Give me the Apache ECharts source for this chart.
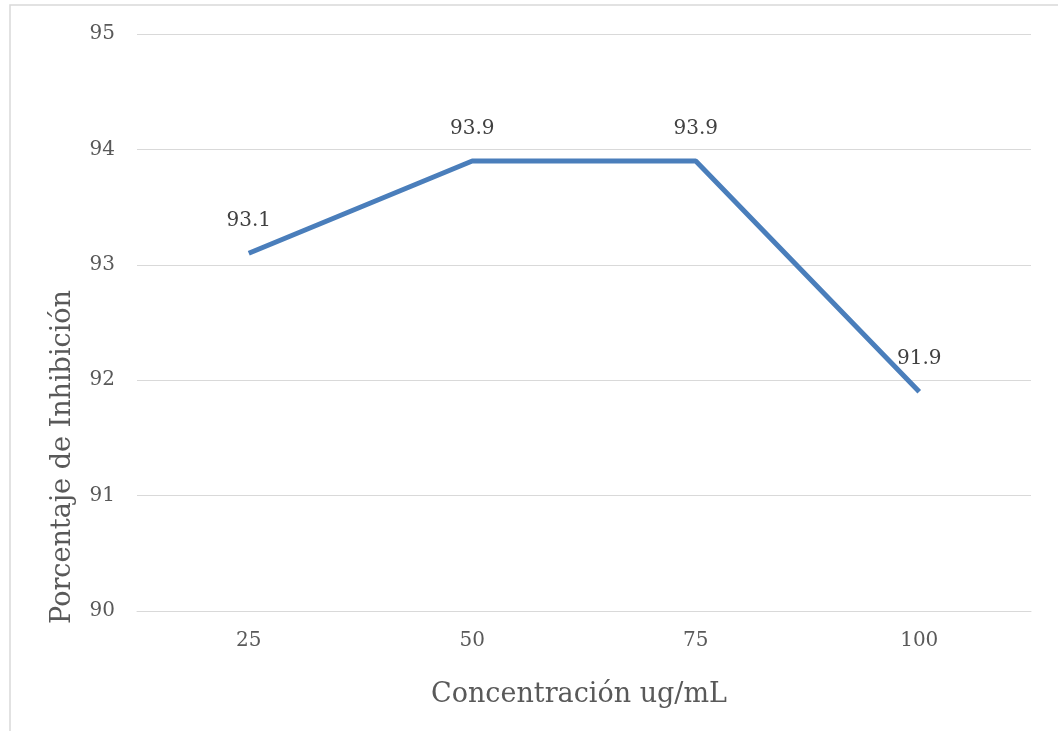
<!DOCTYPE html>
<html><head><meta charset="utf-8">
<script src="https://cdn.jsdelivr.net/npm/echarts@6/dist/echarts.min.js"></script>
<style>html,body{margin:0;padding:0;background:#fff}#c{width:1058px;height:731px}</style>
</head><body><div id="c"></div>
<script>
const categories = ['25', '50', '75', '100'];
const values = [93.1, 93.9, 93.9, 91.9];
const xTitle = 'Concentración ug/mL';
const yTitle = 'Porcentaje de Inhibición';
const FONT = '"DejaVu Serif", serif';
const chart = echarts.init(document.getElementById('c'));
chart.setOption({
  animation: false,
  backgroundColor: '#fff',
  graphic: [
    {type:'rect', shape:{x:10, y:5, width:1100, height:800}, style:{fill:'none', stroke:'#d9d9d9', lineWidth:1.5}, silent:true},
    {type:'text', x:63, y:457, rotation: Math.PI/2,
     style:{text: yTitle, fill:'#595959', fontSize: 27, fontFamily: FONT, align:'center', verticalAlign:'middle'}}
  ],
  grid: {left: 137, right: 27, top: 34, bottom: 120},
  xAxis: {
    type: 'category', data: categories, boundaryGap: true,
    axisLine: {show: true, lineStyle: {color: '#d9d9d9', width: 1}},
    axisTick: {show: false},
    axisLabel: {color: '#595959', fontSize: 20, fontFamily: FONT, margin: 20},
    name: xTitle, nameLocation: 'middle', nameGap: 70,
    nameTextStyle: {color: '#595959', fontSize: 27, fontFamily: FONT, padding: [0, 10, 0, 0]}
  },
  yAxis: {
    type: 'value', min: 90, max: 95, interval: 1,
    axisLine: {show: false}, axisTick: {show: false},
    splitLine: {lineStyle: {color: '#d9d9d9', width: 1}},
    axisLabel: {color: '#595959', fontSize: 20, fontFamily: FONT, margin: 22}
  },
  series: [{
    type: 'line', data: values, symbol: 'circle', symbolSize: 1, showSymbol: true,
    itemStyle: {color: 'rgba(0,0,0,0)'},
    lineStyle: {color: '#4a7ebb', width: 5},
    label: {show: true, position: 'top', distance: 22, color: '#404040', fontSize: 20, fontFamily: FONT,
      formatter: p => Number(p.value).toFixed(1)}
  }]
});
</script></body></html>
